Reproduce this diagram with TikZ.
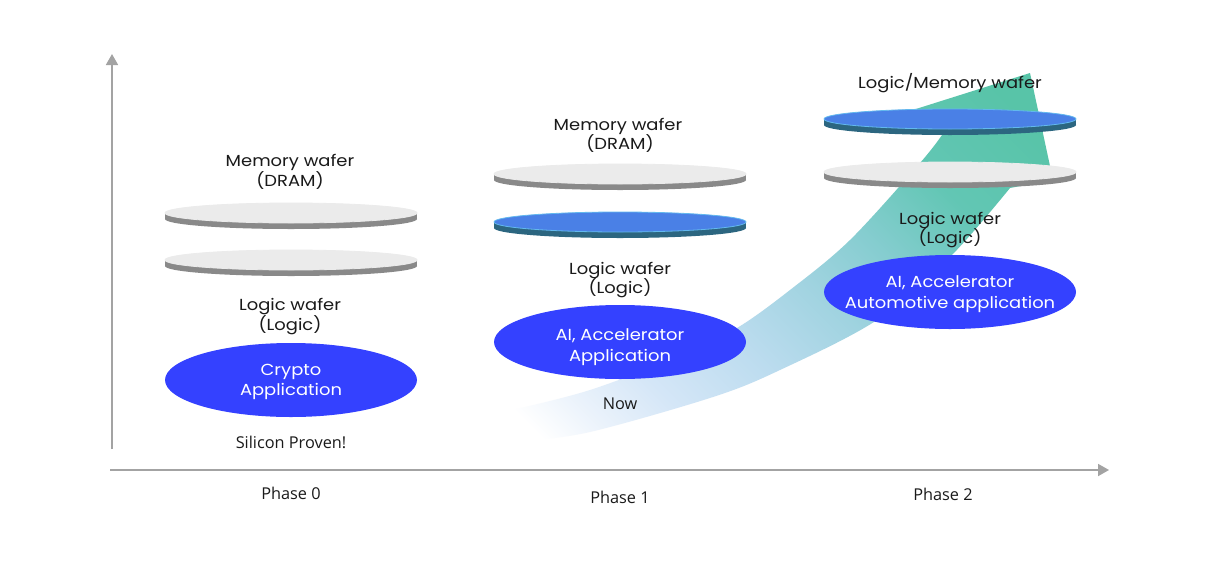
\documentclass[tikz,border=0pt]{standalone}
\usepackage{fontspec}
\setmainfont{Poppins}[FakeStretch=1.12]
\newfontfamily\labfont{Open Sans}
\usetikzlibrary{shapes.geometric,arrows.meta}
\definecolor{txt}{HTML}{1A1A1A}
\definecolor{axisgray}{HTML}{A3A3A3}
\definecolor{appblue}{HTML}{3441FF}
\definecolor{wgraytop}{HTML}{EBEBEB}
\definecolor{wgrayside}{HTML}{898989}
\definecolor{wbluetop}{HTML}{4A80E6}
\definecolor{wblueside}{HTML}{2C6680}
\definecolor{wblueedge}{HTML}{62B8EE}
\definecolor{bA}{HTML}{EAF2FB}
\definecolor{bB}{HTML}{D4E6F7}
\definecolor{bC}{HTML}{BCDCEF}
\definecolor{bD}{HTML}{A0D3E0}
\definecolor{bE}{HTML}{86CDD0}
\definecolor{bF}{HTML}{62C6B4}
\definecolor{bG}{HTML}{58C4A8}
\pgfdeclareverticalshading{bandshade}{100bp}{color(0bp)=(white); color(17bp)=(white); color(23bp)=(bA); color(30bp)=(bB); color(40bp)=(bC); color(50bp)=(bD); color(58bp)=(bE); color(68bp)=(bF); color(80bp)=(bG); color(100bp)=(bG)}
\newcommand\mywafer[5]{%
  \fill[#4] (#1-126,#2) rectangle (#1+126,#2+6);
  \fill[#4] (#1,#2+6) ellipse[x radius=126pt, y radius=10pt];
  \fill[#3, draw=#5, line width=0.8pt] (#1,#2) ellipse[x radius=126pt, y radius=10pt];
}
\tikzset{
  lbl/.style={anchor=base, font=\fontsize{16}{19}\selectfont, text=txt, inner sep=0pt},
  wlbl/.style={anchor=base, font=\fontsize{16}{19}\selectfont, text=white, inner sep=0pt},
  small/.style={anchor=base, font=\labfont\fontsize{16.3}{19}\selectfont, text=txt, inner sep=0pt},
  appell/.style={ellipse, fill=appblue, minimum width=252pt, minimum height=74pt, inner sep=0pt},
  axisline/.style={draw=axisgray, line width=1.8pt, -{Triangle[length=11pt,width=12pt]}},
}
\begin{document}
\begin{tikzpicture}[x=1pt,y=-1pt]
\useasboundingbox (0,0) rectangle (1212,570);
\fill[white] (0,0) rectangle (1212,570);
% axes
\coordinate (yb) at (112,449);
\coordinate (yt) at (112,54);
\coordinate (xl) at (110,470);
\coordinate (xr) at (1109,470);
\draw[axisline] (yb) -- (yt);
\draw[axisline] (xl) -- (xr);
% growth band arrow
\shade[shading=bandshade, shading angle=-45]
  plot[smooth, tension=0.55] coordinates {(512,410) (590,390) (680,356) (737,328) (790,290) (850,240) (920,163) (942,135)}
  -- (900,114) -- (1030,73) -- (1053,180) -- (1010,188)
  -- plot[smooth, tension=0.55] coordinates {(1010,188) (950,257) (877,320) (780,370) (713,397) (590,432) (523,441)}
  -- cycle;
% Phase 0
\mywafer{291}{213}{wgraytop}{wgrayside}{wgraytop}
\mywafer{291}{260}{wgraytop}{wgrayside}{wgraytop}
\node[lbl] (m0) at (290,166.5) {Memory wafer};
\node[lbl] (d0) at (290,186) {(DRAM)};
\node[lbl] (l0) at (290,310) {Logic wafer};
\node[lbl] (g0) at (290,330) {(Logic)};
\node[appell] (e0) at (291,380) {};
\node[wlbl] (c0a) at (291,375) {Crypto};
\node[wlbl] (c0b) at (291,395) {Application};
\node[small] (s0) at (291,448) {Silicon Proven!};
\node[small] (p0) at (291,499) {Phase 0};
% Phase 1
\mywafer{620}{174}{wgraytop}{wgrayside}{wgraytop}
\mywafer{620}{222}{wbluetop}{wblueside}{wblueedge}
\node[lbl] (m1) at (618,130) {Memory wafer};
\node[lbl] (d1) at (620,149.5) {(DRAM)};
\node[lbl] (l1) at (620,274) {Logic wafer};
\node[lbl] (g1) at (620,293) {(Logic)};
\node[appell] (e1) at (620,342) {};
\node[wlbl] (c1a) at (620,340) {AI, Accelerator};
\node[wlbl] (c1b) at (620,361) {Application};
\node[small] (n1) at (620,409) {Now};
\node[small] (p1) at (620,503) {Phase 1};
% Phase 2
\mywafer{950}{119}{wbluetop}{wblueside}{wblueedge}
\mywafer{950}{172}{wgraytop}{wgrayside}{wgraytop}
\node[lbl] (m2) at (950,88) {Logic/Memory wafer};
\node[lbl] (l2) at (950,224) {Logic wafer};
\node[lbl] (g2) at (950,243) {(Logic)};
\node[appell] (e2) at (950,292) {};
\node[wlbl] (c2a) at (950,287) {AI, Accelerator};
\node[wlbl] (c2b) at (950,308) {Automotive application};
\node[small] (p2) at (943,500) {Phase 2};
\end{tikzpicture}
\end{document}
